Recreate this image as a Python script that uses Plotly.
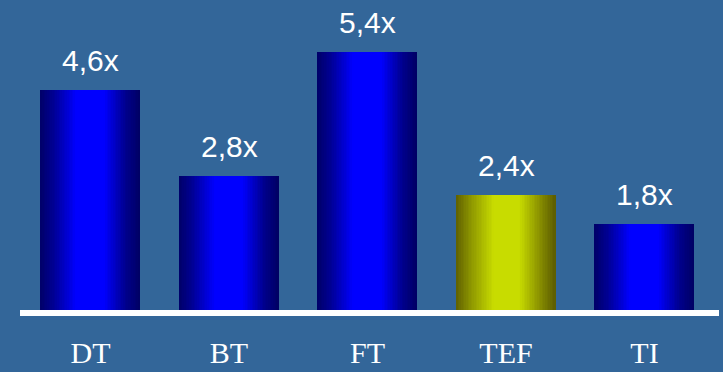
import plotly.graph_objects as go

# Speed-up factors per method
categories = ["DT", "BT", "FT", "TEF", "TI"]
speedups = [4.6, 2.8, 5.4, 2.4, 1.8]
value_labels = ["4,6x", "2,8x", "5,4x", "2,4x", "1,8x"]
highlighted = ["TEF"]

BG = "#336699"
BAR_WIDTH = 0.715
N_SLICES = 60

# Horizontal shading stops (position, rgb) for the cylinder look
BLUE_STOPS = [(0.0, (0, 0, 104)), (0.14, (0, 0, 150)), (0.36, (0, 0, 255)),
              (0.64, (0, 0, 255)), (0.86, (0, 0, 140)), (1.0, (0, 0, 100))]
YELLOW_STOPS = [(0.0, (96, 96, 0)), (0.14, (138, 146, 0)), (0.38, (200, 220, 0)),
                (0.64, (200, 220, 0)), (0.86, (132, 138, 0)), (1.0, (92, 92, 0))]


def shade(stops, t):
    for (p0, c0), (p1, c1) in zip(stops[:-1], stops[1:]):
        if p0 <= t <= p1:
            f = (t - p0) / (p1 - p0)
            r, g, b = (round(a + (bb - a) * f) for a, bb in zip(c0, c1))
            return f"rgb({r},{g},{b})"
    r, g, b = stops[-1][1]
    return f"rgb({r},{g},{b})"


x_idx = list(range(len(categories)))
fig = go.Figure()

slice_w = BAR_WIDTH / N_SLICES
for k in range(N_SLICES):
    t = (k + 0.5) / N_SLICES
    colors = [shade(YELLOW_STOPS if c in highlighted else BLUE_STOPS, t) for c in categories]
    fig.add_trace(go.Bar(
        x=x_idx, y=speedups,
        width=slice_w * 1.08,
        offset=-BAR_WIDTH / 2 + k * slice_w,
        marker=dict(color=colors, line=dict(width=0)),
        hoverinfo="skip", showlegend=False,
    ))

for i, (v, lab) in enumerate(zip(speedups, value_labels)):
    fig.add_annotation(x=i, y=v, text=lab, showarrow=False, yanchor="bottom",
                       yshift=11, font=dict(family="Liberation Sans, Arial", size=30, color="white"))

# White baseline under the bars
fig.add_shape(type="rect", xref="paper", yref="y", x0=20 / 723, x1=719 / 723,
              y0=0, y1=-0.1255, fillcolor="white", line=dict(width=0), layer="above")

fig.update_layout(
    width=723, height=372,
    margin=dict(l=0, r=0, t=0, b=56),
    paper_bgcolor=BG, plot_bgcolor=BG,
    barmode="overlay", bargap=0,
    xaxis=dict(range=[-0.6534, 4.5668], tickvals=x_idx, ticktext=categories,
               showgrid=False, zeroline=False, showline=False, ticks="",
               automargin=False, ticklabelstandoff=16,
               tickfont=dict(family="Liberation Serif, Times New Roman", size=30, color="white")),
    yaxis=dict(range=[-0.1255, 6.485], visible=False, showgrid=False, zeroline=False,
               automargin=False),
)

fig.write_html("out.html")
